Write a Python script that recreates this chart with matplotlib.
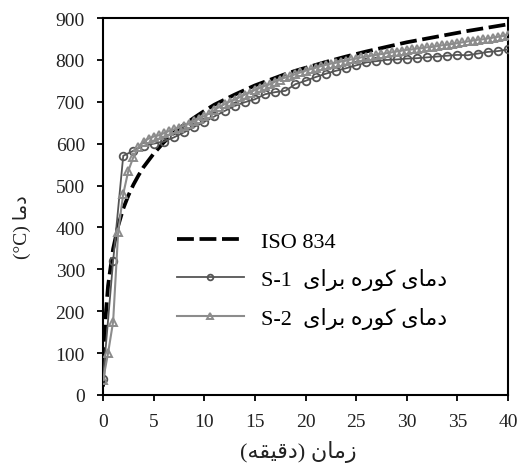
import matplotlib
matplotlib.use("Agg")
import numpy as np
from matplotlib import pyplot as plt

# Persian strings are written as presentation forms in visual order,
# since matplotlib does no Arabic shaping or bidi
Y_LABEL = "(°C) \uFE8E\uFEE3\uFEA9"
X_LABEL = "(\uFEEA\uFED8\uFEF4\uFED7\uFEA9) \uFEE5\uFE8E\uFEE3\uFEAF"
FURNACE = "\uFEEF\uFE8D\uFEAE\uFE91 \uFEE9\uFEAD\uFEEE\uFB90 \uFEEF\uFE8E\uFEE3\uFEA9"
LABELS = ["ISO 834", "S-1  " + FURNACE, "S-2  " + FURNACE]

# ISO 834 standard curve (min, degC)
iso_t = [0, 0.1, 0.25, 0.5, 1, 1.5, 2, 2.5, 3, 3.5, 4, 5, 6, 7, 8, 9, 10,
         11, 12, 13, 14, 15, 16, 17, 18, 19, 20, 22, 24, 26, 28, 30, 32,
         34, 36, 38, 40]
iso_T = [20, 108, 185, 261, 349, 404, 445, 476, 502, 524, 544, 576, 603,
         626, 645, 662, 678, 693, 705, 717, 728, 739, 748, 757, 766, 774,
         781, 795, 808, 820, 831, 842, 851, 860, 869, 877, 885]

# furnace temperature for S-1 (one reading per minute)
s1_t = list(range(0, 41))
s1_T = [38, 320, 571, 583, 595, 600, 605, 615, 627, 640, 652, 665, 678,
        690, 699, 706, 718, 723, 726, 742, 750, 759, 767, 774, 780, 787,
        794, 797, 800, 801, 803, 804, 806, 808, 810, 812, 811, 815, 819,
        821, 825]

# furnace temperature for S-2 (every half minute)
s2_t = [i * 0.5 for i in range(81)]
s2_T = [35, 100, 175, 390, 480, 535, 568, 592, 605, 612, 617, 620, 625,
        630, 634, 638, 643, 648, 653, 660, 666, 672, 680, 688, 694, 700,
        705, 711, 717, 722, 728, 733, 738, 742, 748, 753, 758, 761, 766,
        770, 774, 778, 781, 785, 788, 791, 793, 796, 798, 801, 803, 806,
        808, 810, 812, 814, 816, 818, 820, 822, 824, 825, 827, 828, 830,
        831, 833, 835, 836, 838, 840, 842, 844, 846, 848, 849, 851, 853,
        855, 857, 860]

plt.rcParams["font.family"] = ["Liberation Serif", "DejaVu Sans"]

fig = plt.figure(figsize=(5.19, 4.64), dpi=100)
ax = fig.add_axes([103 / 519, 1 - 396 / 464, 405 / 519, 377 / 464])

ax.plot(iso_t, iso_T, color="black", lw=2.7, linestyle=(0, (4.5, 1.5)),
        label=LABELS[0], zorder=2)
ax.plot(s1_t, s1_T, color="#555555", lw=1.3, marker="o", ms=5.5,
        mfc="none", mec="#555555", mew=1.3, label=LABELS[1], zorder=3)
ax.plot(s2_t, s2_T, color="#8c8c8c", lw=1.5, marker="^", ms=6,
        mfc="none", mec="#8c8c8c", mew=1.4, label=LABELS[2], zorder=4)

ax.set_xlim(0, 40)
ax.set_ylim(0, 900)
ax.set_xticks(np.arange(0, 41, 5))
ax.set_yticks(np.arange(0, 901, 100))
ax.tick_params(direction="out", length=4, width=1.3, labelsize=14,
               labelcolor="#222222")
ax.tick_params(axis="y", pad=9)
ax.tick_params(axis="x", pad=9)
for sp in ax.spines.values():
    sp.set_linewidth(1.5)

fig.text(298 / 519, 1 - 452 / 464, X_LABEL, ha="center", va="center",
         fontsize=16, color="#222222")
fig.text(22 / 519, 1 - 227 / 464, Y_LABEL, ha="center", va="center",
         rotation=90, fontsize=14, color="#222222")

leg = ax.legend(loc="upper left", bbox_to_anchor=(177 / 519, 1 - 232 / 464),
                bbox_transform=fig.transFigure, frameon=False, fontsize=16,
                handlelength=3.0, handletextpad=0.8, labelspacing=0.75,
                borderpad=0, borderaxespad=0, markerscale=0.75)

fig.savefig("out.png", dpi=100)
